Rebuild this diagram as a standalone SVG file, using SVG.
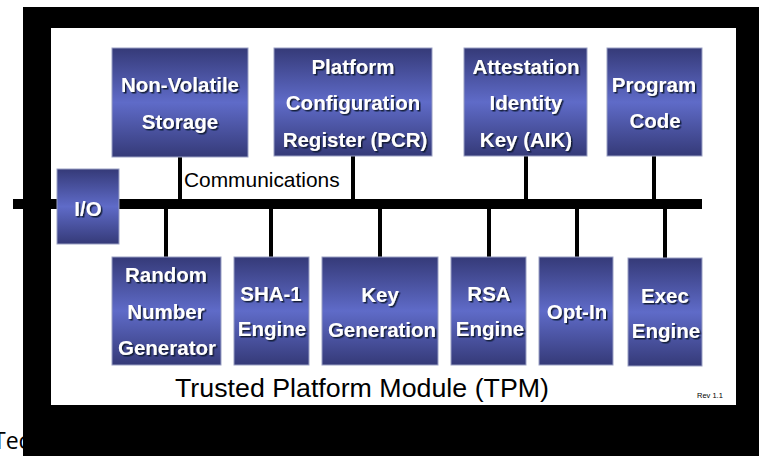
<svg xmlns="http://www.w3.org/2000/svg" width="759" height="456" viewBox="0 0 759 456">
<defs>
<linearGradient id="g" x1="0" y1="0" x2="0" y2="1">
<stop offset="0" stop-color="#353a78"/>
<stop offset="0.5" stop-color="#5f6bc8"/>
<stop offset="1" stop-color="#353a78"/>
</linearGradient>
<filter id="sh" x="-10%" y="-20%" width="120%" height="150%">
<feDropShadow dx="1.5" dy="1.5" stdDeviation="0.6" flood-color="#10122e" flood-opacity="0.9"/>
</filter>
<style>
.box{fill:url(#g);stroke:#9aa0c4;stroke-width:1}
.t{font-family:"Liberation Sans",Arial,sans-serif;font-weight:bold;font-size:20.5px;fill:#ffffff;text-anchor:middle;filter:url(#sh)}
.w{stroke:#000;stroke-width:4}
.lbl{font-family:"Liberation Sans",Arial,sans-serif;fill:#000}
</style>
</defs>
<rect x="0" y="0" width="759" height="456" fill="#ffffff"/>
<text x="-7" y="449" font-family="'Open Sans','Noto Sans',sans-serif" font-size="23" fill="#000">Tec</text>
<rect id="frame" x="23" y="7" width="736" height="449" fill="#000"/>
<rect x="51" y="28" width="685" height="377" fill="#ffffff"/>
<g id="connectors">
<rect x="13" y="199" width="689" height="10" fill="#000"/>
<line class="w" x1="180" y1="157" x2="180" y2="200"/>
<line class="w" x1="353" y1="156" x2="353" y2="200"/>
<line class="w" x1="526" y1="156" x2="526" y2="200"/>
<line class="w" x1="654" y1="156" x2="654" y2="200"/>
<line class="w" x1="166" y1="208" x2="166" y2="257"/>
<line class="w" x1="271" y1="208" x2="271" y2="257"/>
<line class="w" x1="380" y1="208" x2="380" y2="257"/>
<line class="w" x1="489" y1="208" x2="489" y2="257"/>
<line class="w" x1="577" y1="208" x2="577" y2="257"/>
<line class="w" x1="665" y1="208" x2="665" y2="258"/>
</g>
<g id="io"><rect class="box" x="57" y="169" width="62" height="75"/><text class="t" x="88" y="216">I/O</text></g>
<g id="nvs"><rect class="box" x="112" y="48" width="136" height="109"/><text class="t" x="180" y="92">Non-Volatile</text><text class="t" x="180" y="129">Storage</text></g>
<g id="pcr"><rect class="box" x="274" y="48" width="158" height="108"/><text class="t" x="353" y="74">Platform</text><text class="t" x="353" y="110">Configuration</text><text class="t" x="355" y="147">Register (PCR)</text></g>
<g id="aik"><rect class="box" x="464" y="48" width="123" height="108"/><text class="t" x="526" y="74">Attestation</text><text class="t" x="526" y="110">Identity</text><text class="t" x="526" y="147">Key (AIK)</text></g>
<g id="prog"><rect class="box" x="607" y="48" width="95" height="108"/><text class="t" x="654" y="92">Program</text><text class="t" x="655" y="128">Code</text></g>
<g id="rng"><rect class="box" x="112" y="257" width="109" height="108"/><text class="t" x="166" y="282">Random</text><text class="t" x="166" y="319">Number</text><text class="t" x="167" y="355">Generator</text></g>
<g id="sha"><rect class="box" x="234" y="257" width="75" height="108"/><text class="t" x="271" y="301">SHA-1</text><text class="t" x="272" y="336">Engine</text></g>
<g id="keygen"><rect class="box" x="322" y="257" width="116" height="108"/><text class="t" x="380" y="302">Key</text><text class="t" x="382" y="337">Generation</text></g>
<g id="rsa"><rect class="box" x="451" y="257" width="75" height="108"/><text class="t" x="489" y="301">RSA</text><text class="t" x="490" y="336">Engine</text></g>
<g id="optin"><rect class="box" x="539" y="257" width="74" height="108"/><text class="t" x="577" y="319">Opt-In</text></g>
<g id="exec"><rect class="box" x="628" y="258" width="74" height="108"/><text class="t" x="665" y="303">Exec</text><text class="t" x="666" y="338">Engine</text></g>
<text class="lbl" x="184" y="187" font-size="20.9">Communications</text>
<text class="lbl" x="362" y="397" font-size="26.7" text-anchor="middle" textLength="374" lengthAdjust="spacingAndGlyphs">Trusted Platform Module (TPM)</text>
<text class="lbl" x="697" y="398" font-size="7.5" fill="#444">Rev 1.1</text>
</svg>
